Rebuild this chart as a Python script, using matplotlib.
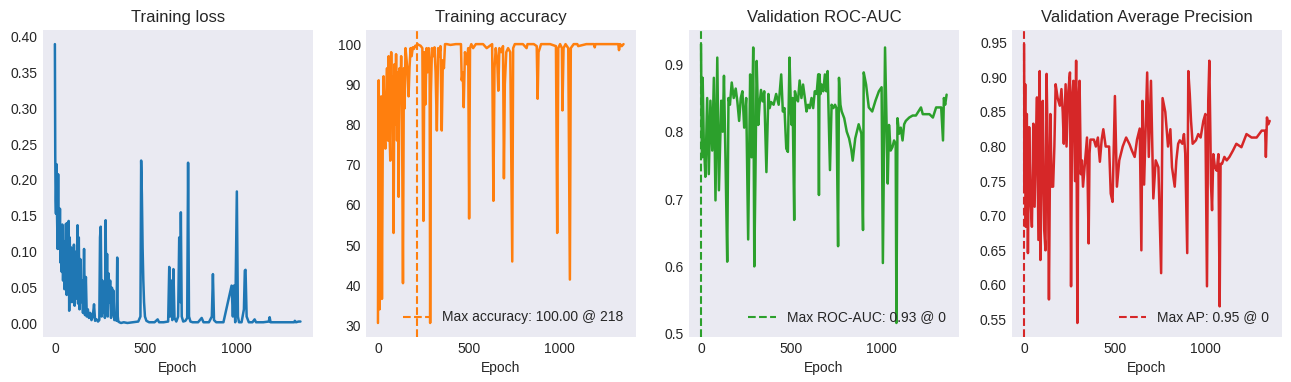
import numpy as np
import matplotlib
matplotlib.use('Agg')
import matplotlib.pyplot as plt

# values, (epoch, value)
loss_epoch = [0, 2, 4, 6, 9, 12, 15, 18, 21, 25, 28, 31, 34, 38, 41, 45, 49, 53, 57, 61, 65, 68, 72, 76, 79, 82,
              86, 90, 94, 98, 101, 105, 109, 113, 117, 121, 125, 128, 132, 136, 140, 145, 150, 155, 161, 166, 171,
              176, 182, 188, 195, 202, 209, 216, 222, 230, 238, 245, 249, 253, 258, 262, 266, 272, 276, 280, 284,
              288, 292, 296, 300, 305, 310, 315, 320, 323, 328, 333, 340, 344, 347, 350, 356, 365, 380, 400, 430,
              460, 472, 476, 480, 484, 488, 492, 497, 505, 520, 550, 567, 575, 600, 625, 631, 636, 642, 648, 654,
              660, 670, 680, 686, 692, 695, 700, 708, 720, 730, 735, 740, 748, 760, 790, 810, 820, 850, 866, 872,
              878, 890, 930, 975, 982, 988, 995, 1004, 1010, 1016, 1030, 1043, 1048, 1052, 1058, 1070, 1090, 1102,
              1110, 1150, 1180, 1185, 1190, 1230, 1280, 1320, 1324, 1330, 1345, 1355]
loss_value = [0.389, 0.236, 0.172, 0.153, 0.222, 0.150, 0.104, 0.208, 0.105, 0.104, 0.160, 0.085, 0.110, 0.072,
              0.138, 0.060, 0.115, 0.048, 0.090, 0.139, 0.040, 0.140, 0.060, 0.143, 0.018, 0.120, 0.045, 0.106,
              0.030, 0.095, 0.050, 0.110, 0.025, 0.100, 0.035, 0.080, 0.137, 0.028, 0.120, 0.020, 0.090, 0.030,
              0.060, 0.015, 0.104, 0.012, 0.065, 0.010, 0.020, 0.008, 0.015, 0.005, 0.010, 0.027, 0.004, 0.006,
              0.003, 0.005, 0.120, 0.135, 0.010, 0.060, 0.015, 0.050, 0.008, 0.144, 0.020, 0.097, 0.010, 0.070,
              0.030, 0.060, 0.008, 0.050, 0.012, 0.046, 0.005, 0.010, 0.004, 0.092, 0.010, 0.003, 0.002, 0.001,
              0.002, 0.001, 0.002, 0.003, 0.010, 0.227, 0.180, 0.106, 0.060, 0.030, 0.010, 0.004, 0.002, 0.002,
              0.006, 0.002, 0.002, 0.003, 0.079, 0.010, 0.060, 0.005, 0.076, 0.008, 0.003, 0.010, 0.120, 0.030,
              0.155, 0.010, 0.003, 0.004, 0.008, 0.224, 0.010, 0.003, 0.002, 0.002, 0.008, 0.002, 0.002, 0.010,
              0.069, 0.005, 0.002, 0.002, 0.053, 0.010, 0.053, 0.002, 0.184, 0.010, 0.002, 0.002, 0.020, 0.074,
              0.075, 0.010, 0.002, 0.002, 0.006, 0.002, 0.002, 0.003, 0.009, 0.002, 0.002, 0.002, 0.002, 0.004,
              0.002, 0.003, 0.003]

acc_epoch = [0, 4, 9, 13, 18, 22, 27, 31, 36, 41, 46, 50, 55, 59, 64, 68, 73, 77, 82, 86, 91, 95, 100, 105, 110,
             114, 119, 124, 128, 133, 138, 143, 147, 152, 158, 163, 169, 174, 180, 186, 192, 198, 206, 212, 218,
             225, 235, 245, 251, 256, 262, 268, 274, 280, 285, 288, 292, 298, 305, 312, 318, 325, 332, 338, 345,
             352, 358, 364, 370, 380, 400, 430, 458, 462, 468, 473, 480, 490, 498, 503, 508, 515, 525, 540, 580,
             600, 630, 637, 643, 650, 658, 664, 670, 680, 690, 695, 700, 708, 718, 730, 741, 746, 755, 770, 800,
             820, 825, 860, 876, 881, 886, 900, 950, 982, 989, 995, 1005, 1015, 1018, 1024, 1035, 1050, 1059, 1064,
             1080, 1100, 1105, 1150, 1193, 1196, 1200, 1250, 1300, 1326, 1330, 1336, 1345, 1355]
acc_value = [30.6, 91.0, 34.0, 43.0, 87.0, 36.6, 80.0, 92.0, 77.0, 74.0, 88.0, 94.0, 76.0, 97.0, 78.0, 71.0, 98.0,
             82.0, 92.0, 53.0, 95.0, 80.0, 97.5, 76.0, 93.0, 62.0, 94.0, 88.0, 97.0, 80.0, 40.5, 94.0, 84.0, 99.0,
             96.0, 93.0, 87.0, 94.0, 99.0, 97.0, 99.2, 98.8, 99.6, 99.5, 100.0, 99.8, 99.6, 99.0, 56.0, 98.0, 85.0,
             99.0, 93.0, 99.0, 95.0, 30.6, 87.6, 99.0, 97.0, 99.2, 93.0, 78.5, 99.0, 97.0, 99.5, 78.5, 96.0, 94.0,
             100.0, 100.0, 99.8, 100.0, 100.0, 91.0, 93.0, 84.3, 98.0, 95.0, 99.0, 56.6, 99.0, 100.0, 99.0, 100.0,
             100.0, 99.0, 100.0, 61.0, 94.0, 99.0, 96.0, 88.4, 99.0, 98.0, 99.5, 66.6, 90.0, 98.0, 99.0, 98.0,
             45.9, 99.0, 100.0, 100.0, 100.0, 99.0, 100.0, 100.0, 99.5, 86.4, 98.0, 100.0, 100.0, 99.5, 53.0, 99.0,
             100.0, 99.0, 83.5, 99.0, 100.0, 99.0, 41.4, 99.0, 100.0, 100.0, 99.5, 100.0, 100.0, 99.2, 100.0,
             100.0, 100.0, 100.0, 98.5, 100.0, 99.5, 100.0]

auc_points = [(0, 0.930), (3, 0.800), (6, 0.762), (9, 0.880), (15, 0.787), (24, 0.733), (34, 0.850), (43, 0.737),
              (52, 0.846), (62, 0.772), (71, 0.880), (80, 0.698), (90, 0.910), (99, 0.713), (112, 0.846),
              (120, 0.800), (127, 0.883), (136, 0.750), (145, 0.607), (152, 0.850), (160, 0.840), (170, 0.873),
              (181, 0.850), (192, 0.864), (201, 0.845), (211, 0.816), (220, 0.850), (229, 0.860), (239, 0.806),
              (250, 0.850), (261, 0.640), (272, 0.885), (280, 0.762), (289, 0.925), (295, 0.600), (301, 0.728),
              (308, 0.905), (317, 0.810), (324, 0.840), (332, 0.862), (341, 0.845), (350, 0.860), (362, 0.740),
              (373, 0.856), (380, 0.835), (388, 0.844), (402, 0.840), (416, 0.856), (430, 0.840), (444, 0.885),
              (453, 0.830), (462, 0.835), (472, 0.775), (481, 0.770), (490, 0.910), (498, 0.830), (502, 0.810),
              (507, 0.850), (516, 0.669), (520, 0.860), (528, 0.850), (537, 0.845), (546, 0.876), (556, 0.850),
              (565, 0.870), (575, 0.850), (584, 0.830), (593, 0.840), (602, 0.835), (612, 0.850), (621, 0.835),
              (630, 0.860), (640, 0.856), (649, 0.885), (653, 0.706), (656, 0.885), (662, 0.856), (668, 0.870),
              (677, 0.860), (686, 0.885), (694, 0.860), (701, 0.890), (714, 0.743), (723, 0.840), (733, 0.835),
              (742, 0.840), (750, 0.835), (759, 0.630), (764, 0.880), (772, 0.840), (779, 0.830), (793, 0.820),
              (807, 0.800), (820, 0.790), (832, 0.774), (840, 0.757), (854, 0.790), (873, 0.811), (888, 0.797),
              (897, 0.654), (901, 0.888), (914, 0.870), (929, 0.836), (948, 0.830), (966, 0.846), (985, 0.860),
              (1000, 0.866), (1007, 0.605), (1019, 0.925), (1026, 0.830), (1034, 0.723), (1041, 0.810),
              (1050, 0.772), (1060, 0.777), (1069, 0.787), (1078, 0.782), (1082, 0.516), (1088, 0.820),
              (1097, 0.797), (1106, 0.806), (1116, 0.787), (1125, 0.811), (1134, 0.816), (1153, 0.821),
              (1172, 0.824), (1190, 0.824), (1218, 0.836), (1228, 0.826), (1265, 0.826), (1284, 0.821),
              (1302, 0.836), (1330, 0.836), (1340, 0.787), (1345, 0.850), (1352, 0.840), (1360, 0.855)]

ap_points = [(0, 0.948), (2, 0.742), (6, 0.890), (9, 0.684), (15, 0.847), (21, 0.646), (28, 0.828), (34, 0.732),
             (43, 0.684), (51, 0.833), (58, 0.713), (66, 0.818), (71, 0.871), (79, 0.665), (86, 0.909), (90, 0.636),
             (98, 0.794), (103, 0.866), (111, 0.679), (118, 0.650), (124, 0.905), (131, 0.779), (137, 0.579),
             (145, 0.847), (152, 0.742), (160, 0.742), (167, 0.800), (174, 0.890), (185, 0.870), (197, 0.859),
             (206, 0.883), (213, 0.850), (219, 0.804), (229, 0.890), (234, 0.800), (244, 0.880), (253, 0.907),
             (259, 0.598), (265, 0.870), (272, 0.895), (281, 0.750), (287, 0.924), (294, 0.545), (300, 0.870),
             (306, 0.895), (313, 0.760), (319, 0.780), (325, 0.742), (338, 0.785), (347, 0.813), (356, 0.660),
             (361, 0.790), (366, 0.810), (385, 0.810), (396, 0.800), (407, 0.813), (418, 0.778), (428, 0.810),
             (437, 0.825), (450, 0.800), (469, 0.800), (478, 0.732), (488, 0.720), (501, 0.873), (512, 0.742),
             (525, 0.780), (544, 0.800), (563, 0.813), (582, 0.803), (595, 0.794), (610, 0.785), (623, 0.810),
             (638, 0.826), (647, 0.650), (653, 0.866), (662, 0.745), (679, 0.907), (688, 0.785), (700, 0.895),
             (713, 0.725), (726, 0.780), (741, 0.770), (756, 0.617), (764, 0.870), (779, 0.850), (794, 0.800),
             (807, 0.825), (816, 0.770), (831, 0.742), (840, 0.780), (850, 0.804), (859, 0.809), (873, 0.804),
             (882, 0.818), (889, 0.790), (900, 0.646), (906, 0.909), (914, 0.876), (921, 0.837), (930, 0.804),
             (948, 0.809), (961, 0.818), (974, 0.813), (989, 0.837), (1000, 0.847), (1009, 0.598), (1016, 0.866),
             (1022, 0.924), (1028, 0.813), (1031, 0.746), (1037, 0.708), (1044, 0.789), (1053, 0.770),
             (1063, 0.765), (1072, 0.789), (1079, 0.569), (1084, 0.775), (1092, 0.775), (1105, 0.785),
             (1118, 0.780), (1133, 0.785), (1152, 0.794), (1171, 0.804), (1199, 0.799), (1227, 0.818),
             (1255, 0.813), (1283, 0.813), (1311, 0.823), (1330, 0.823), (1334, 0.785), (1340, 0.842),
             (1347, 0.832), (1355, 0.837)]

plt.style.use('seaborn-v0_8-dark')

fig, axes = plt.subplots(1, 4, figsize=(12.91, 3.82), dpi=100)
fig.subplots_adjust(left=0.033, right=0.993, top=0.921, bottom=0.118, wspace=0.196)

# training loss
ax = axes[0]
ax.plot(loss_epoch, loss_value, color='C0', lw=1.8)
ax.set_title('Training loss')
ax.set_xlabel('Epoch')


def plot_metric(ax, ep, val, color, title, label):
    ep = np.array(ep)
    val = np.array(val)
    ax.plot(ep, val, color=color, lw=1.8)
    i = int(np.argmax(val))
    ax.axvline(ep[i], color=color, ls='--', lw=1.5,
               label=f'{label}: {val[i]:.2f} @ {ep[i]}')
    ax.set_title(title)
    ax.set_xlabel('Epoch')
    ax.legend(loc='lower right')


auc_epoch, auc_value = zip(*auc_points)
ap_epoch, ap_value = zip(*ap_points)

plot_metric(axes[1], acc_epoch, acc_value, 'C1', 'Training accuracy', 'Max accuracy')
plot_metric(axes[2], auc_epoch, auc_value, 'C2', 'Validation ROC-AUC', 'Max ROC-AUC')
plot_metric(axes[3], ap_epoch, ap_value, 'C3', 'Validation Average Precision', 'Max AP')

for ax in axes:
    ax.set_xticks([0, 500, 1000])

fig.savefig('out.png', dpi=100)
